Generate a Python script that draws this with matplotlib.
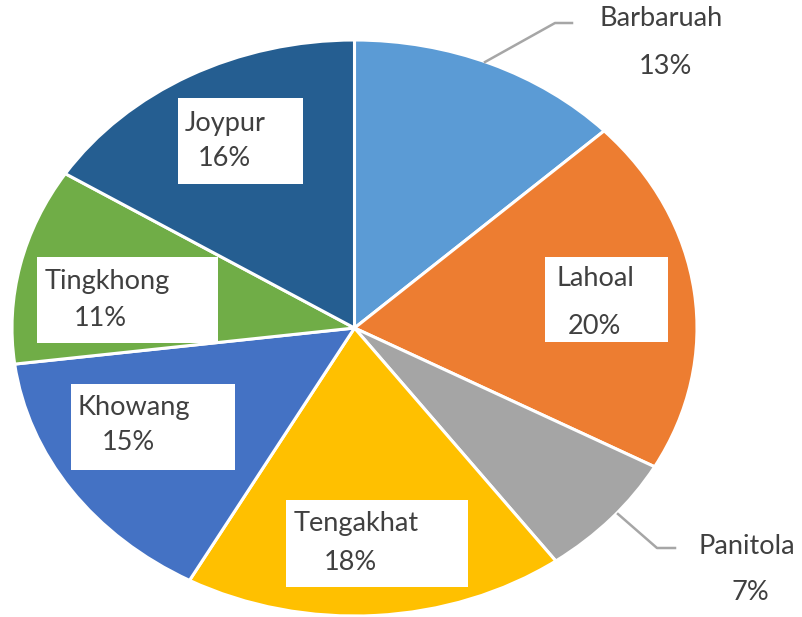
import matplotlib
matplotlib.use("Agg")
import matplotlib.pyplot as plt
from matplotlib.patches import Rectangle
from matplotlib.transforms import Affine2D

# ---- data ----
categories = ["Barbaruah", "Lahoal", "Panitola", "Tengakhat", "Khowang", "Tingkhong", "Joypur"]
values = [13, 20, 7, 18, 15, 11, 16]
pct_labels = ["13%", "20%", "7%", "18%", "15%", "11%", "16%"]

# ---- style ----
colors = ["#5B9BD5", "#ED7D31", "#A5A5A5", "#FFC000", "#4472C4", "#70AD47", "#255E91"]
W, H = 803, 617
plt.rcParams['font.family'] = ['Lato', 'DejaVu Sans']
text_color = "#404040"
fs = 19.5

fig = plt.figure(figsize=(W / 100, H / 100), dpi=100)
fig.patch.set_facecolor("white")

# pie axes (elliptical pie, in pixel extents)
left, right, top, bottom = 12, 697, 40, 616
ax = fig.add_axes([left / W, 1 - bottom / H, (right - left) / W, (bottom - top) / H])
ax.pie(values, colors=colors, startangle=90, counterclock=False,
       wedgeprops=dict(edgecolor="white", linewidth=2.2), radius=1.0)
ax.set_aspect("auto")
ax.set_xlim(-1.0, 1.0)
ax.set_ylim(-1.0, 1.0)
ax.axis("off")

# pixel transform (origin top-left)
px = Affine2D().scale(1 / W, -1 / H).translate(0, 1) + fig.transFigure

# label layout: (box or None, name pos, pct pos)
layout = {
    "Barbaruah": (None, (600, 19), (665, 67)),
    "Lahoal": ((545, 257, 668, 342), (557, 279), (594, 327)),
    "Panitola": (None, (699, 546), (750, 592)),
    "Tengakhat": ((286, 500, 468, 587), (294, 523), (350, 562)),
    "Khowang": ((71, 384, 235, 470), (78, 408), (128, 443)),
    "Tingkhong": ((37, 257, 218, 343), (45, 281), (100, 318)),
    "Joypur": ((178, 98, 303, 184), (185, 124), (224, 159)),
}

for cat, pct in zip(categories, pct_labels):
    box, npos, ppos = layout[cat]
    if box is not None:
        x0, y0, x1, y1 = box
        fig.add_artist(Rectangle((x0, y0), x1 - x0, y1 - y0, transform=px,
                                 facecolor="white", edgecolor="none", zorder=3))
    fig.text(npos[0], npos[1], cat, transform=px, ha="left", va="center",
             fontsize=fs, color=text_color, zorder=4)
    fig.text(ppos[0], ppos[1], pct, transform=px, ha="center", va="center",
             fontsize=fs, color=text_color, zorder=4)

# leader lines
leader_col = "#A6A6A6"
fig.add_artist(plt.Line2D([485, 555, 572], [62, 23, 23], transform=px,
                          color=leader_col, linewidth=1.8, zorder=2))
fig.add_artist(plt.Line2D([618, 657, 675], [514, 548, 548], transform=px,
                          color=leader_col, linewidth=1.8, zorder=2))

fig.savefig("out.png", dpi=100, facecolor="white")
